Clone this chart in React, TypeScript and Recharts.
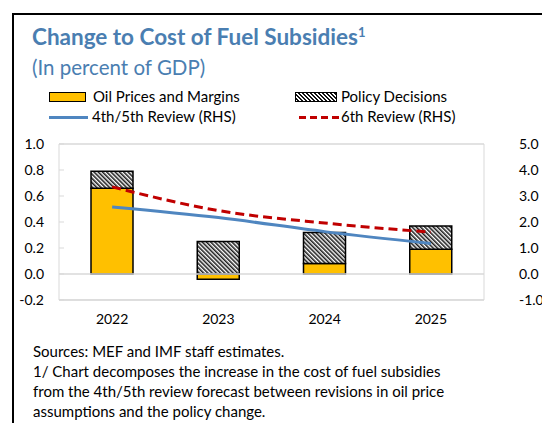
import React from "react";
import {
  Bar,
  ComposedChart,
  Line,
  ReferenceLine,
  XAxis,
  YAxis,
} from "recharts";

const years = ["2022", "2023", "2024", "2025"];
const oilPrices = [0.66, -0.04, 0.08, 0.19];
const policyDecisions = [0.13, 0.25, 0.24, 0.18];
const review45 = [2.58, 2.17, 1.63, 1.17];
const review6 = [3.35, 2.44, 1.96, 1.61];
const leftTicks = [-0.2, 0, 0.2, 0.4, 0.6, 0.8, 1.0];
const rightTicks = [-1, 0, 1, 2, 3, 4, 5];

const data = years.map((year, i) => ({
  year,
  oil: oilPrices[i],
  policy: policyDecisions[i],
  r45: review45[i],
  r6: review6[i],
}));

const font = "Lato, 'Open Sans', sans-serif";
const titleBlue = "#4A7EB1";
const lineBlue = "#4F86C0";
const red = "#C00000";
const gold = "#FFC000";
const grey = "#D9D9D9";

const hatch =
  "repeating-linear-gradient(45deg, #fff 0px, #fff 1.4px, #111 1.4px, #111 2.8px)";

const abs = (s: React.CSSProperties): React.CSSProperties => ({
  position: "absolute",
  ...s,
});

export default function App() {
  return (
    <div
      style={{
        position: "absolute",
        left: 0,
        top: 0,
        width: 542,
        height: 423,
        overflow: "hidden",
        background: "#fff",
        fontFamily: font,
        color: "#000",
      }}
    >
      <div
        style={abs({
          left: 12,
          top: 13,
          width: 600,
          height: 500,
          borderLeft: "2px solid #000",
          borderTop: "2px solid #000",
        })}
      />
      <div
        style={abs({
          left: 32,
          top: 23,
          fontSize: 22.5,
          fontWeight: 700,
          color: titleBlue,
          whiteSpace: "nowrap",
        })}
      >
        Change to Cost of Fuel Subsidies<sup style={{ fontSize: 13 }}>1</sup>
      </div>
      <div
        style={abs({
          left: 32,
          top: 55,
          fontSize: 20.5,
          color: titleBlue,
          whiteSpace: "nowrap",
        })}
      >
        (In percent of GDP)
      </div>

      {/* legend */}
      <div
        style={abs({
          left: 49,
          top: 92,
          width: 35,
          height: 8,
          background: gold,
          border: "1.5px solid #000",
        })}
      />
      <div style={abs({ left: 93, top: 87, fontSize: 15 })}>
        Oil Prices and Margins
      </div>
      <div
        style={abs({
          left: 295,
          top: 92,
          width: 40,
          height: 8,
          background: hatch,
          border: "1.5px solid #000",
        })}
      />
      <div style={abs({ left: 341, top: 87, fontSize: 15 })}>
        Policy Decisions
      </div>
      <div
        style={abs({
          left: 49,
          top: 116,
          width: 39,
          height: 3,
          background: lineBlue,
        })}
      />
      <div style={abs({ left: 92, top: 107, fontSize: 15 })}>
        4th/5th Review (RHS)
      </div>
      <svg style={abs({ left: 299, top: 115 })} width={40} height={5}>
        <line
          x1={0}
          y1={2.5}
          x2={40}
          y2={2.5}
          stroke={red}
          strokeWidth={3}
          strokeDasharray="7 4"
        />
      </svg>
      <div style={abs({ left: 341, top: 107, fontSize: 15 })}>
        6th Review (RHS)
      </div>

      <div style={abs({ left: 0, top: 130 })}>
        <ComposedChart
          width={542}
          height={200}
          data={data}
          stackOffset="sign"
          margin={{ top: 14, right: 0, bottom: 0, left: 0 }}
        >
          <defs>
            <pattern
              id="hatch"
              patternUnits="userSpaceOnUse"
              width={3}
              height={3}
              patternTransform="rotate(-45)"
            >
              <rect width={3} height={3} fill="#fff" />
              <line x1={0.8} y1={0} x2={0.8} y2={3} stroke="#111" strokeWidth={1.5} />
            </pattern>
          </defs>
          <XAxis
            dataKey="year"
            stroke={grey}
            tickLine={false}
            tickSize={0}
            tickMargin={14}
            tick={{ fill: "#000", fontSize: 14, fontFamily: font }}
          />
          <YAxis
            yAxisId="left"
            width={59}
            domain={[-0.2, 1.0]}
            ticks={leftTicks}
            interval={0}
            stroke={grey}
            tickSize={-5}
            tickMargin={20}
            tickFormatter={(v: number) => v.toFixed(1)}
            tick={{ fill: "#000", fontSize: 14, fontFamily: font }}
          />
          <YAxis
            yAxisId="right"
            orientation="right"
            width={58}
            domain={[-1, 5]}
            ticks={rightTicks}
            interval={0}
            stroke={grey}
            tickLine={false}
            tickSize={0}
            tickMargin={35}
            tickFormatter={(v: number) => v.toFixed(1)}
            tick={{ fill: "#000", fontSize: 14, fontFamily: font }}
          />
          <ReferenceLine yAxisId="left" y={1.0} stroke={grey} strokeWidth={1.5} />
          <ReferenceLine yAxisId="left" y={-0.2} stroke={grey} strokeWidth={1.5} />
          <ReferenceLine yAxisId="left" y={0} stroke={grey} strokeWidth={1.5} />
          <Bar
            yAxisId="left"
            dataKey="oil"
            stackId="a"
            barSize={42}
            fill={gold}
            stroke="#000"
            strokeWidth={1.5}
            isAnimationActive={false}
          />
          <Bar
            yAxisId="left"
            dataKey="policy"
            stackId="a"
            barSize={42}
            fill="url(#hatch)"
            stroke="#000"
            strokeWidth={1.5}
            isAnimationActive={false}
          />
          <Line
            yAxisId="right"
            dataKey="r45"
            type="monotone"
            stroke={lineBlue}
            strokeWidth={3}
            dot={false}
            isAnimationActive={false}
          />
          <Line
            yAxisId="right"
            dataKey="r6"
            type="monotone"
            stroke={red}
            strokeWidth={3}
            strokeDasharray="9 5"
            dot={false}
            isAnimationActive={false}
          />
        </ComposedChart>
      </div>

      <div
        style={abs({
          left: 33,
          top: 341,
          fontSize: 15,
          lineHeight: "20px",
          width: 500,
        })}
      >
        Sources: MEF and IMF staff estimates.
        <br />
        1/ Chart decomposes the increase in the cost of fuel subsidies
        <br />
        from the 4th/5th review forecast between revisions in oil price
        <br />
        assumptions and the policy change.
      </div>
    </div>
  );
}
